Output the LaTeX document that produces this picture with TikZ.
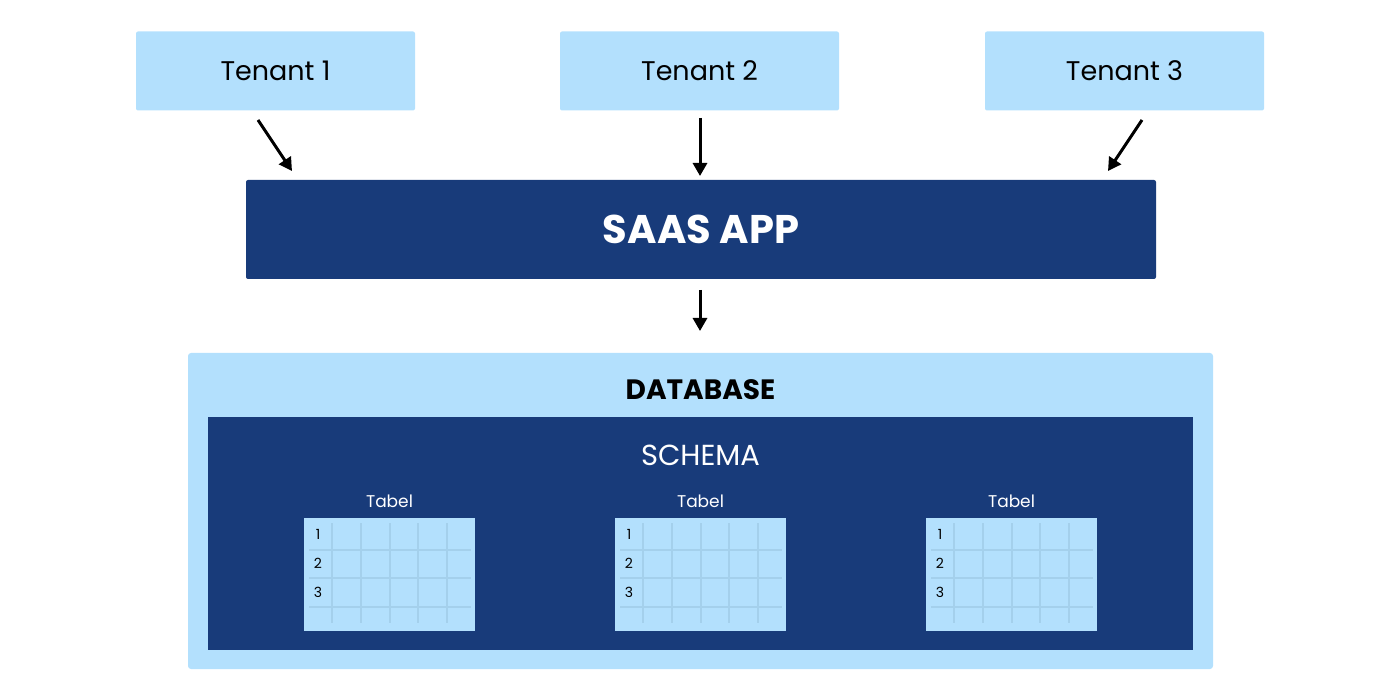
\documentclass[tikz,border=0pt]{standalone}
\usepackage{fontspec}
\setmainfont{Poppins}
\usetikzlibrary{arrows.meta}
\definecolor{lightb}{RGB}{179,224,253}
\definecolor{navy}{RGB}{24,59,122}
\definecolor{gridc}{RGB}{164,208,236}
\tikzset{
  tenant/.style={fill=lightb, rounded corners=2pt, minimum width=279pt, minimum height=79pt, inner sep=0pt, font=\fontsize{27}{32}\selectfont, text=black},
  arr/.style={line width=3pt, -{Triangle[length=13pt,width=14pt]}},
  tbl/.style={fill=lightb, minimum width=171pt, minimum height=113pt, inner sep=0pt},
  tlabel/.style={font=\fontsize{17}{20}\selectfont, text=white},
  num/.style={font=\fontsize{14}{16}\selectfont, text=black}
}
\begin{document}
\begin{tikzpicture}[x=1pt,y=-1pt]
\useasboundingbox (0,0) rectangle (1400,700);
\node[tenant] (t1) at (275.5,71) {Tenant 1};
\node[tenant] (t2) at (699.5,71) {Tenant 2};
\node[tenant] (t3) at (1124.5,71) {Tenant 3};
\node[fill=navy, rounded corners=2pt, minimum width=910pt, minimum height=99pt, inner sep=0pt, text=white, font=\fontsize{40}{44}\selectfont\bfseries] (app) at (701,229.5) {SAAS APP};
\node[fill=lightb, rounded corners=3pt, minimum width=1025pt, minimum height=316pt, inner sep=0pt] (db) at (700.5,511) {};
\node[font=\fontsize{28}{32}\selectfont\bfseries] (dbl) at (700.5,390) {DATABASE};
\node[fill=navy, minimum width=985pt, minimum height=233pt, inner sep=0pt] (sch) at (700.5,533.5) {};
\node[text=white, font=\fontsize{29}{32}\selectfont] (schl) at (700.5,455) {SCHEMA};
\coordinate (a1s) at (258,120); \coordinate (a1e) at (292,171);
\coordinate (a2s) at (700,118); \coordinate (a2e) at (700,176);
\coordinate (a3s) at (1142,120); \coordinate (a3e) at (1108,171);
\coordinate (a4s) at (700,290); \coordinate (a4e) at (700,331);
\draw[arr] (a1s) -- (a1e);
\draw[arr] (a2s) -- (a2e);
\draw[arr] (a3s) -- (a3e);
\draw[arr] (a4s) -- (a4e);
\foreach \i/\cx in {1/389.5, 2/700.5, 3/1011.5} {
  \node[tlabel] (tl\i) at (\cx,501) {Tabel};
  \node[tbl] (tb\i) at (\cx,574) {};
  \begin{scope}[shift={(\cx-85.5,517)}]
    \foreach \vx in {28,57,86,114,143} \draw[gridc, line width=1.5pt] (\vx,6) -- (\vx,106);
    \foreach \hy in {33,61,90} \draw[gridc, line width=1.5pt] (5,\hy) -- (167,\hy);
    \node[num] (n\i a) at (14,17) {1};
    \node[num] (n\i b) at (14,46) {2};
    \node[num] (n\i c) at (14,75) {3};
  \end{scope}
}
\end{tikzpicture}
\end{document}
